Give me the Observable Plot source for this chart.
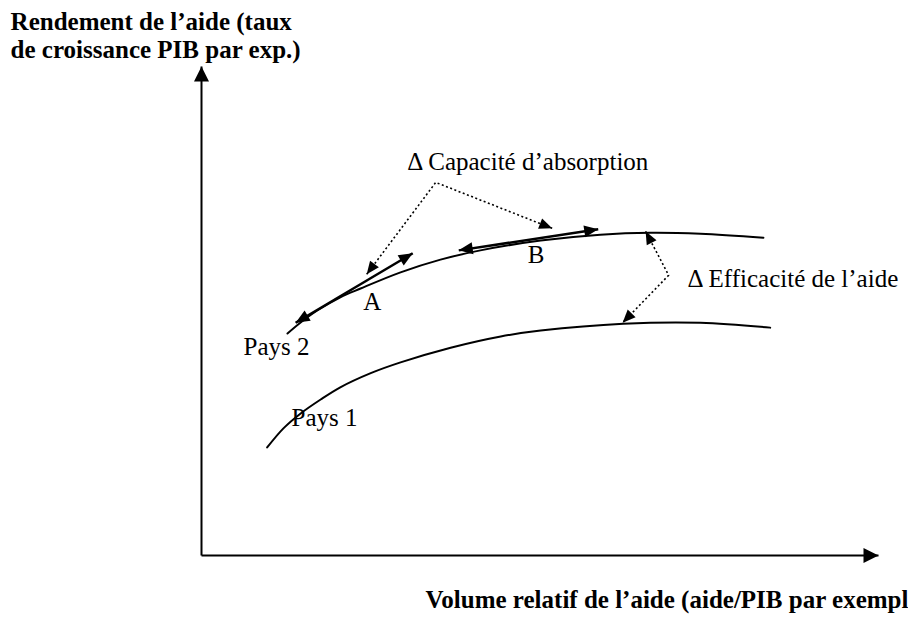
<!DOCTYPE html>
<html><head><meta charset="utf-8">
<script src="https://cdn.jsdelivr.net/npm/d3@7"></script>
<script src="https://cdn.jsdelivr.net/npm/@observablehq/plot@0.6"></script>
<style>html,body{margin:0;padding:0;background:#fff;overflow:hidden;} #chart svg{display:block;}</style>
</head><body><div id="chart"></div>
<script>
// Conceptual diagram: abstract units 0..100 on both axes
const pays2X = [12.7, 14.6, 17.1, 20.5, 23.5, 29.4, 35.3, 41.2, 50.1, 58.9, 66.3, 73.7, 83.0];
const pays2Y = [45.4, 47.6, 50.1, 52.8, 54.6, 57.9, 60.5, 62.4, 64.4, 65.6, 66.0, 65.8, 65.0];
const pays1X = [9.7, 12.1, 14.6, 17.6, 20.5, 25.0, 29.4, 36.8, 44.2, 50.1, 62.3, 73.7, 84.0];
const pays1Y = [22.1, 26.0, 29.0, 31.9, 34.4, 37.3, 39.5, 42.5, 44.8, 46.0, 47.4, 47.6, 46.6];

// tangent (double-headed) arrows along Pays 2 at A and B
const tangentNames = ["A", "B"];
const tangentX1 = [13.9, 38.0];
const tangentY1 = [47.6, 62.4];
const tangentX2 = [31.2, 58.6];
const tangentY2 = [61.8, 66.7];

// dotted annotation arrows: end, apex, end
const capaciteX = [24.4, 34.6, 51.8];
const capaciteY = [57.5, 76.3, 66.9];
const efficaciteX = [65.6, 69.0, 62.2];
const efficaciteY = [66.3, 57.3, 47.6];

// labels
const labelTexts = ["Δ Capacité d’absorption", "Δ Efficacité de l’aide", "Pays 2", "Pays 1", "A", "B"];
const labelX = [30.4, 71.8, 6.2, 13.3, 23.9, 48.2];
const labelY = [78.9, 55.0, 40.9, 26.4, 50.3, 59.9];

const yTitle = "Rendement de l’aide (taux\nde croissance PIB par exp.)";
const xTitle = "Volume relatif de l’aide (aide/PIB par exemple)";

const curves = [
  ...pays2X.map((x, i) => ({serie: "Pays 2", x, y: pays2Y[i]})),
  ...pays1X.map((x, i) => ({serie: "Pays 1", x, y: pays1Y[i]}))
];
const tangents = tangentNames.map((n, i) => ({n, x1: tangentX1[i], y1: tangentY1[i], x2: tangentX2[i], y2: tangentY2[i]}));
const dotted = [
  ...capaciteX.map((x, i) => ({g: "cap", x, y: capaciteY[i]})),
  ...efficaciteX.map((x, i) => ({g: "eff", x, y: efficaciteY[i]}))
];
const labels = labelTexts.map((t, i) => ({t, x: labelX[i], y: labelY[i]}));
const axes = [{x1: 0, y1: 0, x2: 0, y2: 100}, {x1: 0, y1: 0, x2: 100, y2: 0}];

const plot = Plot.plot({
  width: 908, height: 619,
  marginLeft: 201, marginRight: 30, marginTop: 66, marginBottom: 64,
  x: {domain: [0, 100], axis: null},
  y: {domain: [0, 100], axis: null},
  style: {fontFamily: "'Liberation Serif', 'Times New Roman', serif", background: "white", color: "black"},
  marks: [
    Plot.link(axes, {x1: "x1", y1: "y1", x2: "x2", y2: "y2", stroke: "black", strokeWidth: 2, markerEnd: "arrow"}),
    Plot.line(curves, {x: "x", y: "y", z: "serie", stroke: "black", strokeWidth: 2, curve: "catmull-rom"}),
    Plot.link(tangents, {x1: "x1", y1: "y1", x2: "x2", y2: "y2", stroke: "black", strokeWidth: 2.5, markerStart: "arrow", markerEnd: "arrow"}),
    Plot.line(dotted, {x: "x", y: "y", z: "g", stroke: "black", strokeWidth: 1.6, strokeDasharray: "2,2.5", strokeLinecap: "butt", markerStart: "arrow", markerEnd: "arrow"}),
    Plot.text(labels, {x: "x", y: "y", text: "t", textAnchor: "start", lineAnchor: "bottom", fontSize: 25, fill: "black"}),
    Plot.text([yTitle], {x: -28.2, y: 101.8, text: d => d, textAnchor: "start", lineAnchor: "bottom", lineHeight: 1.1, fontSize: 25, fontWeight: "bold", fill: "black"}),
    Plot.text([xTitle], {x: 33.1, y: -10.8, text: d => d, textAnchor: "start", lineAnchor: "bottom", fontSize: 25, fontWeight: "bold", fill: "black"})
  ]
});

// turn Plot's open arrow markers into filled triangular heads (size chosen by the mark's stroke width)
const headSizes = {"2": [15, 15], "2.5": [14, 12], "1.6": [13, 11]};
plot.querySelectorAll("marker").forEach(m => {
  const g = m.parentNode;
  const [L, W] = headSizes[g && g.getAttribute("stroke-width")] || [14, 12];
  m.setAttribute("markerUnits", "userSpaceOnUse");
  m.setAttribute("viewBox", `${-L - 1} ${-W / 2 - 1} ${L + 2} ${W + 2}`);
  m.setAttribute("markerWidth", L + 2);
  m.setAttribute("markerHeight", W + 2);
  m.setAttribute("orient", "auto-start-reverse");
  m.setAttribute("refX", 0);
  m.setAttribute("refY", 0);
  m.style.overflow = "visible";
  while (m.firstChild) m.removeChild(m.firstChild);
  const p = document.createElementNS("http://www.w3.org/2000/svg", "path");
  p.setAttribute("d", `M${-L},${-W / 2}L0,0L${-L},${W / 2}Z`);
  p.setAttribute("fill", "black");
  p.setAttribute("stroke", "none");
  p.setAttribute("stroke-dasharray", "none");
  m.appendChild(p);
});

document.getElementById("chart").appendChild(plot);
</script>
</body></html>
